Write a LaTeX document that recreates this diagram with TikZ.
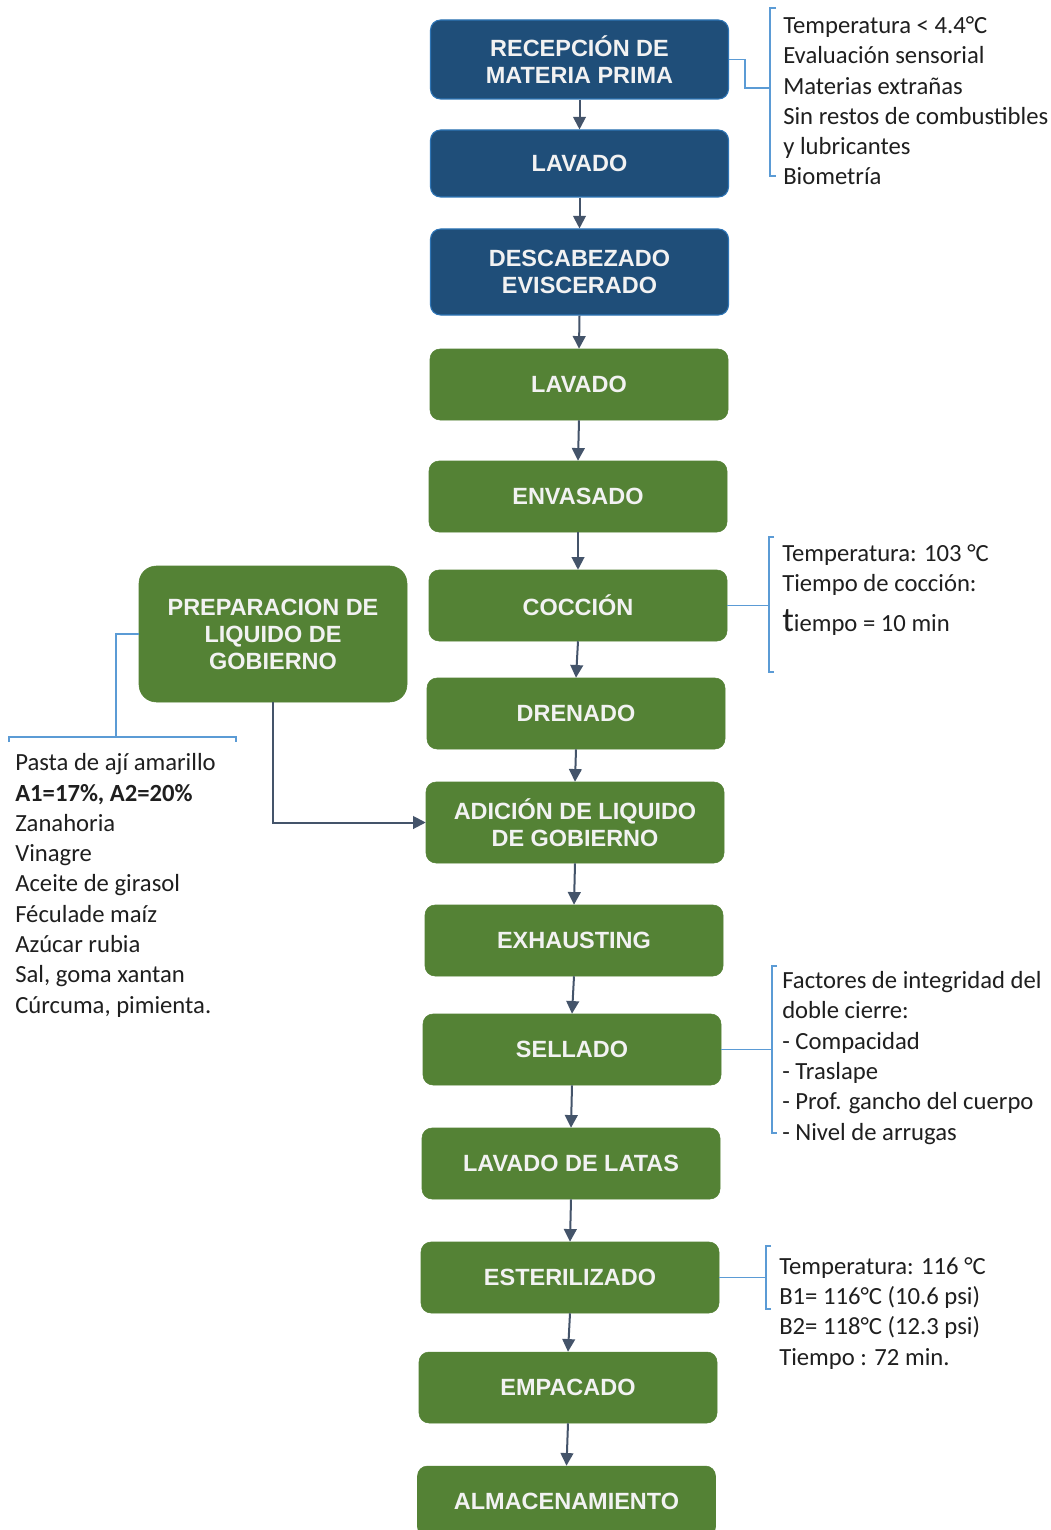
\documentclass[tikz,border=0pt]{standalone}
\usepackage{fontspec}
\setmainfont{Carlito}
\newfontfamily\boxfont{Liberation Sans}
\usetikzlibrary{arrows.meta}
\definecolor{dblue}{HTML}{1F4E79}
\definecolor{dbluel}{HTML}{2E75B6}
\definecolor{pgreen}{HTML}{548235}
\definecolor{arrowc}{HTML}{44546A}
\definecolor{brk}{HTML}{5B9BD5}
\definecolor{btext}{HTML}{F2F2F2}
\begin{document}
\begin{tikzpicture}[x=0.75pt,y=-0.75pt,
  base/.style={rounded corners=7.5pt, text=btext, font=\boxfont\bfseries\fontsize{17.6}{20.25}\selectfont, align=center, minimum width=223.5pt, inner sep=0pt},
  bluebox/.style={base, fill=dblue, draw=dbluel, line width=0.8pt},
  greenbox/.style={base, fill=pgreen, draw=pgreen, minimum height=53.25pt},
  flow/.style={draw=arrowc, line width=1.5pt, -{Triangle[length=9.5pt,width=9.5pt]}},
  brace/.style={draw=brk, line width=1.4pt},
  note/.style={anchor=base west, align=left, font=\fontsize{18.5}{22.7}\selectfont, inner sep=0pt, text=black!88}]
\useasboundingbox (0,0) rectangle (1050,1530);
\fill[white] (0,0) rectangle (1050,1530);

% main flow
\node[bluebox, minimum height=59.25pt] (r1) at (579.5,59.5) {RECEPCIÓN DE\\MATERIA PRIMA};
\node[bluebox, minimum height=50.25pt] (r2) at (579.5,163.5) {LAVADO};
\node[bluebox, minimum height=64.5pt] (r3) at (579.5,272) {DESCABEZADO\\EVISCERADO};
\node[greenbox] (g1) at (579,384.5) {LAVADO};
\node[greenbox] (g2) at (578,496.5) {ENVASADO};
\node[greenbox] (g3) at (578,605.5) {COCCIÓN};
\node[greenbox] (g4) at (576,713.5) {DRENADO};
\node[greenbox, minimum height=60.75pt] (g5) at (575,822.5) {ADICIÓN DE LIQUIDO\\DE GOBIERNO};
\node[greenbox] (g6) at (574,940.5) {EXHAUSTING};
\node[greenbox] (g7) at (572,1049.5) {SELLADO};
\node[greenbox] (g8) at (571,1163.5) {LAVADO DE LATAS};
\node[greenbox] (g9) at (570,1277.5) {ESTERILIZADO};
\node[greenbox] (g10) at (568,1387.5) {EMPACADO};
\node[greenbox] (g11) at (566.5,1501.5) {ALMACENAMIENTO};
\node[greenbox, rounded corners=13pt, minimum width=201pt, minimum height=102pt] (prep) at (273,634) {PREPARACION DE\\LIQUIDO DE\\GOBIERNO};

\draw[flow] (r1.south) -- (r2.north);
\draw[flow] (r2.south) -- (r3.north);
\draw[flow] (r3.south) -- (g1.north);
\draw[flow] (g1.south) -- (g2.north);
\draw[flow] (g2.south) -- (g3.north);
\draw[flow] (g3.south) -- (g4.north);
\draw[flow] (g4.south) -- (g5.north);
\draw[flow] (g5.south) -- (g6.north);
\draw[flow] (g6.south) -- (g7.north);
\draw[flow] (g7.south) -- (g8.north);
\draw[flow] (g8.south) -- (g9.north);
\draw[flow] (g9.south) -- (g10.north);
\draw[flow] (g10.south) -- (g11.north);
\draw[flow] (prep.south) |- (g5.west);

% brackets
\draw[brace] (r1.east) -- (745,59.5) -- (745,88) -- (770,88);
\draw[brace] (776,8) -- (770,8) -- (770,176) -- (776,176);
\draw[brace] (g3.east) -- (769,605.5);
\draw[brace] (774,537) -- (769,537) -- (769,672) -- (774,672);
\draw[brace] (g7.east) -- (772,1049.5);
\draw[brace] (777,966) -- (772,966) -- (772,1133) -- (777,1133);
\draw[brace] (g9.east) -- (766,1277.5);
\draw[brace] (771,1246) -- (766,1246) -- (766,1309) -- (771,1309);
\draw[brace] (prep.west) -- (116,634) -- (116,737);
\draw[brace] (9,742) -- (9,737) -- (236,737) -- (236,742);

% notes (anchored at the baseline of their last line)
\node[note] (n1) at (783,185) {Temperatura < 4.4°C\\Evaluación sensorial\\Materias extrañas\\Sin restos de combustibles\\y lubricantes\\Biometría};
\node[note] (n2) at (782,631) {Temperatura: 103 °C\\Tiempo de cocción:\\[7pt]{\fontsize{26}{26}\selectfont t}iempo = 10 min};
\node[note] (n3) at (15,1013) {Pasta de ají amarillo\\\textbf{A1=17\%, A2=20\%}\\Zanahoria\\Vinagre\\Aceite de girasol\\Féculade maíz\\Azúcar rubia\\Sal, goma xantan\\Cúrcuma, pimienta.};
\node[note] (n4) at (782,1140) {Factores de integridad del\\doble cierre:\\- Compacidad\\- Traslape\\- Prof. gancho del cuerpo\\- Nivel de arrugas};
\node[note] (n5) at (779,1365) {Temperatura: 116 °C\\B1= 116°C (10.6 psi)\\B2= 118°C (12.3 psi)\\Tiempo : 72 min.};
\end{tikzpicture}
\end{document}
